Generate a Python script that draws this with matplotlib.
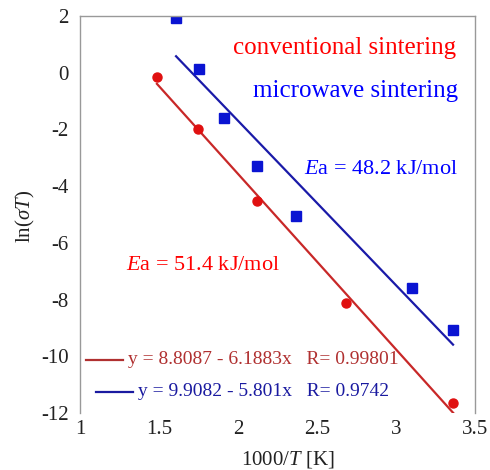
import matplotlib
matplotlib.use("Agg")
import matplotlib.pyplot as plt
import numpy as np

# Data
conv_x = [1.487, 1.747, 2.120, 2.684, 3.363]
conv_y = [-0.14, -1.98, -4.51, -8.12, -11.64]
micro_x = [1.608, 1.753, 1.911, 2.120, 2.367, 3.101, 3.361]
micro_y = [1.93, 0.13, -1.59, -3.28, -5.04, -7.58, -9.06]
conv_fit = (8.8087, -6.1883)
micro_fit = (9.9082, -5.801)
x_ticks = [1, 1.5, 2, 2.5, 3, 3.5]
x_ticklabels = ["1", "1.5", "2", "2.5", "3", "3.5"]
y_ticks = [-12, -10, -8, -6, -4, -2, 0, 2]
y_ticklabels = ["-12", "-10", "-8", "-6", "-4", "-2", "0", "2"]

plt.rcParams['font.family'] = ['Liberation Serif', 'DejaVu Serif']
plt.rcParams['mathtext.fontset'] = 'custom'
plt.rcParams['mathtext.rm'] = 'Liberation Serif'
plt.rcParams['mathtext.it'] = 'Liberation Serif:italic'

W, H = 490, 470
fig = plt.figure(figsize=(4.9, 4.7), dpi=100)
L, R, TP, B = 80, 475, 16, 413
ax = fig.add_axes([L/W, 1-B/H, (R-L)/W, (B-TP)/H])

def axc(px, py):
    return ((px-L)/(R-L), 1-(py-TP)/(B-TP))

red_m = '#e01010'
blue_m = '#0a14d2'
red_l = '#c82828'
blue_l = '#1a1aa8'

xc = np.array([min(conv_x), max(conv_x)])
ax.plot(xc, conv_fit[0] + conv_fit[1]*xc, color=red_l, lw=1.6)
xm = np.array([min(micro_x), max(micro_x)])
ax.plot(xm, micro_fit[0] + micro_fit[1]*xm, color=blue_l, lw=1.6)
ax.plot(conv_x, conv_y, 'o', color=red_m, ms=6.5, mec=red_m)
ax.plot(micro_x, micro_y, 's', color=blue_m, ms=6.5, mec=blue_m)

ax.set_xlim(1, 3.5)
ax.set_ylim(-12, 2)
ax.set_xticks(x_ticks)
ax.set_xticklabels(x_ticklabels)
ax.set_yticks(y_ticks)
ax.set_yticklabels(y_ticklabels)
ax.set_xticks([2.5, 3], minor=True)
ax.tick_params(which='major', length=0, labelsize=15, colors='#222222')
ax.tick_params(axis='x', which='major', pad=5)
ax.tick_params(axis='y', which='major', pad=8)
ax.tick_params(which='minor', direction='in', length=5, top=True, bottom=True,
               color='#777777', width=1)
for s in ['left', 'right', 'top']:
    ax.spines[s].set_color('#999999')
    ax.spines[s].set_linewidth(1)
ax.spines['bottom'].set_visible(False)

fig.text(25/W, 1-216/H, r'ln($\sigma$$\it{T}$)', fontsize=15, rotation=90,
         ha='center', va='center', color='#222222')
fig.text(288/W, 1-459/H, r'1000/$\it{T}$ [K]', fontsize=15,
         ha='center', va='center', color='#222222')

x, y = axc(456, 48)
ax.text(x, y, 'conventional sintering', color='#ff0000',
        fontsize=18, ha='right', va='center', transform=ax.transAxes)
x, y = axc(458, 91)
ax.text(x, y, 'microwave sintering', color='#0000ff',
        fontsize=18, ha='right', va='center', transform=ax.transAxes)
x, y = axc(458, 169)
ax.text(x, y, r'$\it{E}$a = 48.2 kJ/mol', color='#0000ff',
        fontsize=16, ha='right', va='center', transform=ax.transAxes)
x, y = axc(126, 266)
ax.text(x, y, r'$\it{E}$a = 51.4 kJ/mol', color='#ff0000',
        fontsize=16, ha='left', va='center', transform=ax.transAxes)

# equation legend
x0, y0 = axc(86, 360)
x1, _ = axc(123, 360)
ax.plot([x0, x1], [y0, y0], color='#b03030', lw=1.6,
        transform=ax.transAxes, clip_on=False)
x, y = axc(128, 360)
ax.text(x, y, 'y = 8.8087 - 6.1883x   R= 0.99801', color='#b03030',
        fontsize=14, ha='left', va='center', transform=ax.transAxes)
x0, y0 = axc(96, 392)
x1, _ = axc(133, 392)
ax.plot([x0, x1], [y0, y0], color='#1a1aa0', lw=1.6,
        transform=ax.transAxes, clip_on=False)
x, y = axc(138, 392)
ax.text(x, y, 'y = 9.9082 - 5.801x   R= 0.9742', color='#1a1aa0',
        fontsize=14, ha='left', va='center', transform=ax.transAxes)

fig.savefig('out.png', dpi=100)
